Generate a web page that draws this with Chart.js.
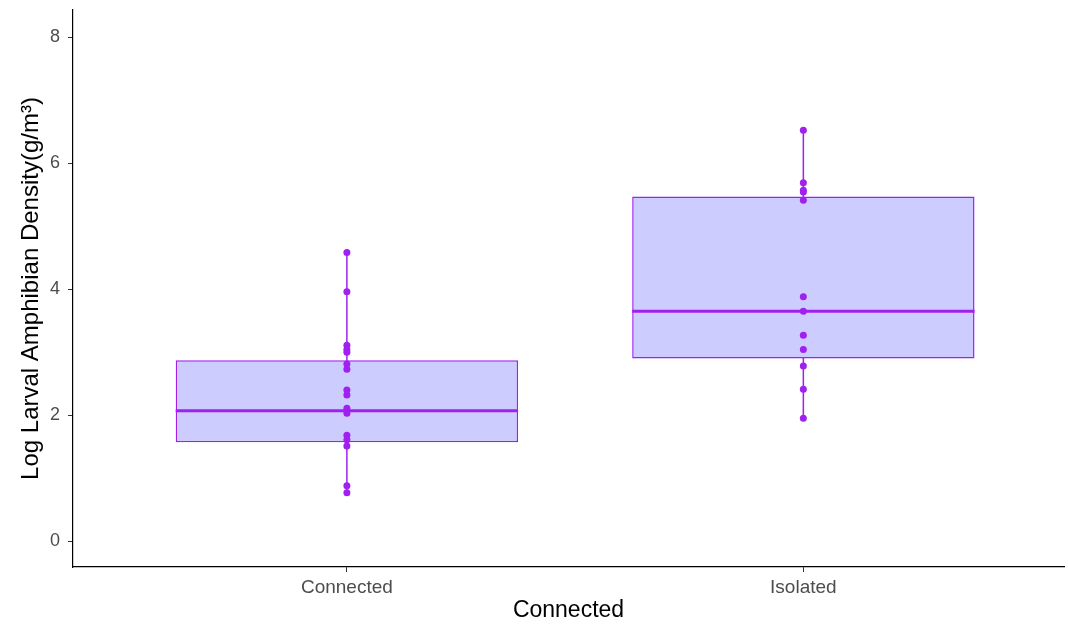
<!DOCTYPE html>
<html>
<head>
<meta charset="utf-8">
<script src="https://cdn.jsdelivr.net/npm/chart.js@4/dist/chart.umd.min.js"></script>
<style>
  html, body { margin: 0; padding: 0; background: #ffffff; }
  #wrap { width: 1068px; height: 624px; }
</style>
</head>
<body>
<div id="wrap"><canvas id="chart" width="1068" height="624"></canvas></div>
<script>
// Groups on the x axis
const categories = ['Connected', 'Isolated'];

// Observed log larval amphibian density per wetland
const connectedValues = [4.58, 3.96, 3.11, 3.04, 3.00, 2.81, 2.73, 2.40, 2.32, 2.11, 2.03, 1.68, 1.61, 1.51, 0.88, 0.77];
const isolatedValues  = [6.52, 5.69, 5.57, 5.54, 5.41, 3.88, 3.65, 3.27, 3.04, 2.78, 2.41, 1.95];

// Box summaries per group: lower hinge, median, upper hinge, whisker ends
const lowerHinge  = [1.57, 2.90];
const medians     = [2.07, 3.65];
const upperHinge  = [2.87, 5.47];
const whiskerLow  = [0.77, 1.95];
const whiskerHigh = [4.58, 6.52];

// Y axis tick values
const yTicks = [0, 2, 4, 6, 8];

const PURPLE = '#A020F0';
const LAVENDER = '#CCCCFF';
const FONT = 'Liberation Sans, Arial, sans-serif';

const groupValues = [connectedValues, isolatedValues];
const pointData = [];
groupValues.forEach((vals, gi) => vals.forEach(v => pointData.push({ x: gi + 1, y: v })));

const whiskerSets = categories.map((c, i) => ({
  type: 'line',
  label: c + ' whisker',
  data: [{ x: i + 1, y: whiskerLow[i] }, { x: i + 1, y: whiskerHigh[i] }],
  borderColor: PURPLE,
  borderWidth: 1.5,
  pointRadius: 0,
  order: 2
}));

// Median line drawn across each box right after the boxes are painted
const medianPlugin = {
  id: 'medianLine',
  afterDatasetDraw(chart, args) {
    if (args.meta.type !== 'bar') return;
    const ctx = chart.ctx;
    const yScale = chart.scales.y;
    ctx.save();
    ctx.strokeStyle = PURPLE;
    ctx.lineWidth = 3;
    args.meta.data.forEach((el, i) => {
      const y = yScale.getPixelForValue(medians[i]);
      ctx.beginPath();
      ctx.moveTo(el.x - el.width / 2, y);
      ctx.lineTo(el.x + el.width / 2, y);
      ctx.stroke();
    });
    ctx.restore();
  }
};

new Chart(document.getElementById('chart'), {
  data: {
    datasets: [
      {
        type: 'scatter',
        label: 'Density',
        data: pointData,
        backgroundColor: PURPLE,
        borderWidth: 0,
        pointRadius: 3.5,
        order: 0
      },
      {
        type: 'bar',
        label: 'Interquartile range',
        data: categories.map((c, i) => ({ x: i + 1, y: [lowerHinge[i], upperHinge[i]] })),
        backgroundColor: LAVENDER,
        borderColor: PURPLE,
        borderWidth: 1.5,
        borderSkipped: false,
        categoryPercentage: 1,
        barPercentage: 0.75,
        order: 1
      },
      ...whiskerSets
    ]
  },
  options: {
    responsive: false,
    animation: false,
    events: [],
    layout: { padding: { left: 17, top: 10, right: 0, bottom: 0 } },
    plugins: {
      legend: { display: false },
      tooltip: { enabled: false }
    },
    scales: {
      x: {
        type: 'linear',
        min: 0.4,
        max: 2.571,
        offset: false,
        afterBuildTicks: s => { s.ticks = categories.map((c, i) => ({ value: i + 1 })); },
        afterFit: s => { s.height = 57; s.paddingLeft = 0; s.paddingRight = 0; },
        ticks: {
          callback: v => categories[v - 1],
          color: '#4D4D4D',
          font: { family: FONT, size: 19 },
          padding: 4,
          maxRotation: 0
        },
        grid: { offset: false, drawOnChartArea: false, drawTicks: true, tickLength: 5, color: '#333333', tickWidth: 1 },
        border: { display: true, color: '#000000', width: 1.2 },
        title: {
          display: true,
          text: 'Connected',
          color: '#000000',
          font: { family: FONT, size: 23 },
          padding: { top: 0, bottom: 0 }
        }
      },
      y: {
        type: 'linear',
        min: -0.41,
        max: 8.43,
        afterBuildTicks: s => { s.ticks = yTicks.map(v => ({ value: v })); },
        afterFit: s => { s.width = 56; s.paddingTop = 0; s.paddingBottom = 0; },
        ticks: {
          color: '#4D4D4D',
          font: { family: FONT, size: 18 },
          padding: 8
        },
        grid: { drawOnChartArea: false, drawTicks: true, tickLength: 5, color: '#333333', tickWidth: 1 },
        border: { display: true, color: '#000000', width: 1.2 },
        title: {
          display: true,
          text: 'Log Larval Amphibian Density(g/m³)',
          color: '#000000',
          font: { family: FONT, size: 24 },
          padding: { top: 0, bottom: 0 }
        }
      }
    }
  },
  plugins: [medianPlugin]
});
</script>
</body>
</html>
